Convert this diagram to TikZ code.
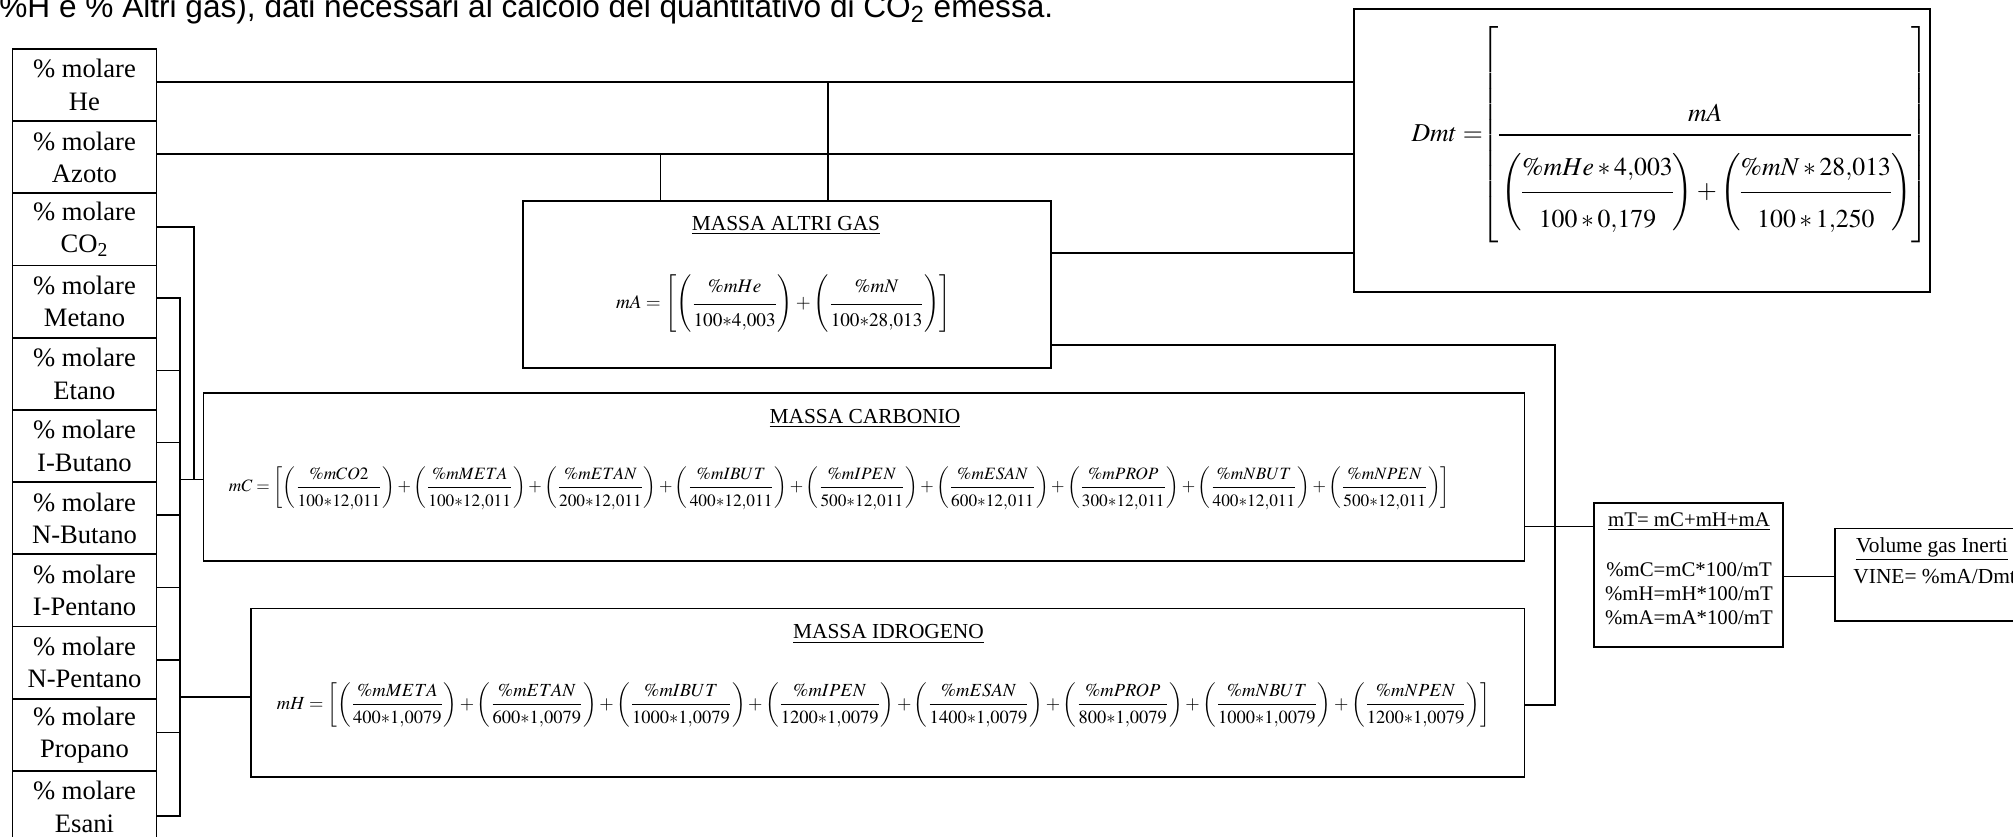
\documentclass[tikz,border=0pt]{standalone}
\usepackage{mathptmx}
\usepackage{amsmath}
\usepackage{graphicx}
\usepackage{fontspec}
\setmainfont{Liberation Serif}
\newfontfamily\arialfont{Liberation Sans}
\usetikzlibrary{fit}

% bracketed fraction terms, with extra room round the fraction bar
\newcommand\frC[2]{\left(\dfrac{#1}{\rule{0pt}{9pt}#2}\right)}
\newcommand\frH[2]{\left(\dfrac{#1}{\rule{0pt}{9.2pt}#2}\right)}
\newcommand\frA[2]{\left(\dfrac{\rule[-4.5pt]{0pt}{4.5pt}#1}{\rule{0pt}{10.5pt}#2}\right)}
\newcommand\frD[2]{\left(\dfrac{\rule[-7pt]{0pt}{7pt}#1}{\rule{0pt}{16.7pt}#2}\right)}
\newcommand\st{{*}}

\tikzset{
  frame/.style={draw, line width=0.8pt, inner sep=0pt},
  link/.style={line width=0.7pt},
  molbox/.style={draw, line width=0.8pt, minimum width=72pt, minimum height=36.2pt,
    inner sep=0pt, anchor=north west, align=center,
    font=\fontsize{13.3}{16.2}\selectfont},
  heading/.style={anchor=base, inner sep=0pt, font=\fontsize{10.7}{12}\selectfont},
  small/.style={anchor=base, inner sep=0pt, font=\fontsize{10.4}{12}\selectfont},
  calc/.style={inner sep=0pt},
}

\begin{document}
\begin{tikzpicture}[x=0.5pt, y=-0.5pt]
\useasboundingbox (0,0) rectangle (2013,836);
\clip (0,0) rectangle (2013,836);

% introductory sentence (top line, partly cut)
\node[anchor=base west, inner sep=0pt, font=\arialfont\fontsize{15.8}{17}\selectfont] (intro)
  at (-1,17) {\%H e \% Altri gas), dati necessari al calcolo del quantitativo di CO\textsubscript{2} emessa.};

% column of molar fractions
\node[molbox] (he)  at (11.7,48.0)  {\% molare\\He};
\node[molbox] (az)  at (11.7,120.2) {\% molare\\Azoto};
\node[molbox] (co)  at (11.7,192.4) {\% molare\\CO\textsubscript{2}};
\node[molbox] (met) at (11.7,264.6) {\% molare\\Metano};
\node[molbox] (eta) at (11.7,336.8) {\% molare\\Etano};
\node[molbox] (ibu) at (11.7,409.0) {\% molare\\I-Butano};
\node[molbox] (nbu) at (11.7,481.2) {\% molare\\N-Butano};
\node[molbox] (ipe) at (11.7,553.4) {\% molare\\I-Pentano};
\node[molbox] (npe) at (11.7,625.6) {\% molare\\N-Pentano};
\node[molbox] (pro) at (11.7,697.8) {\% molare\\Propano};
\node[molbox] (esa) at (11.7,770.0) {\% molare\\Esani};

% calculation frames
\node[frame, fit={(523,200.7) (1051,368)}]      (ag)  {};
\node[frame, fit={(1354,9) (1930,292)}]         (dmt) {};
\node[frame, fit={(203.4,392.7) (1524.3,561)}]  (mc)  {};
\node[frame, fit={(251,608.3) (1524.3,776.7)}]  (mh)  {};
\node[frame, fit={(1594.2,502.7) (1783,646.7)}] (mt)  {};
\node[frame, fit={(1835,528.3) (2030,621)}]     (vgi) {};

% MASSA ALTRI GAS
\node[heading] (agt) at (786,230.5) {\underline{MASSA ALTRI GAS}};
\node[calc, font=\fontsize{10.2}{12}\selectfont] (agf) at (783.5,304) {\resizebox{167.5pt}{!}{$\displaystyle
  mA=\left[\frA{\%mHe}{100\st4{,}003}+\frA{\%mN}{100\st28{,}013}\right]$}};

% density of the other gases
\node[calc, anchor=east, font=\fontsize{13.5}{15}\selectfont] (dmtf) at (1929,135) {\resizebox{258.5pt}{!}{\nulldelimiterspace=0pt$\displaystyle
  Dmt=\hspace{-3.5pt}\left[\rule[-52.4pt]{0pt}{52.4pt}\dfrac{\rule[-5.1pt]{0pt}{5.1pt}mA}{\rule{0pt}{31.5pt}\frD{\%mHe * 4{,}003}{100 * 0{,}179}+\frD{\%mN * 28{,}013}{100 * 1{,}250}}\right]$}};

% MASSA CARBONIO
\node[heading] (mct) at (865,423) {\underline{MASSA CARBONIO}};
\node[calc, font=\fontsize{9.5}{11}\selectfont] (mcf) at (839.5,488) {\resizebox{610.5pt}{!}{$\displaystyle
  mC=\left[\frC{\%mCO2}{100\st12{,}011}+\frC{\%mMETA}{100\st12{,}011}+\frC{\%mETAN}{200\st12{,}011}
  +\frC{\%mIBUT}{400\st12{,}011}+\frC{\%mIPEN}{500\st12{,}011}+\frC{\%mESAN}{600\st12{,}011}
  +\frC{\%mPROP}{300\st12{,}011}+\frC{\%mNBUT}{400\st12{,}011}+\frC{\%mNPEN}{500\st12{,}011}\right]$}};

% MASSA IDROGENO
\node[heading] (mht) at (888.5,638.8) {\underline{MASSA IDROGENO}};
\node[calc, font=\fontsize{10.2}{12}\selectfont] (mhf) at (883.5,705) {\resizebox{606.5pt}{!}{$\displaystyle
  mH=\left[\frH{\%mMETA}{400\st1{,}0079}+\frH{\%mETAN}{600\st1{,}0079}+\frH{\%mIBUT}{1000\st1{,}0079}
  +\frH{\%mIPEN}{1200\st1{,}0079}+\frH{\%mESAN}{1400\st1{,}0079}+\frH{\%mPROP}{800\st1{,}0079}
  +\frH{\%mNBUT}{1000\st1{,}0079}+\frH{\%mNPEN}{1200\st1{,}0079}\right]$}};

% total mass and percentages
\node[small] (mtt) at (1689,526)   {\underline{mT= mC+mH+mA}};
\node[small] (pc)  at (1689,576)   {\%mC=mC*100/mT};
\node[small] (ph)  at (1689,600)   {\%mH=mH*100/mT};
\node[small] (pa)  at (1689,624.5) {\%mA=mA*100/mT};

% inert gas volume
\node[small, font=\fontsize{10.7}{12}\selectfont] (vgt) at (1932,552) {\underline{Volume gas Inerti}};
\node[small, anchor=base west, font=\fontsize{10.7}{12}\selectfont] (vgf) at (1853,583.5) {VINE= \%mA/Dmt};

% --- connectors ---
\coordinate (heo) at ([yshift=1.5pt]he.east);
\coordinate (azo) at ([yshift=1.6pt]az.east);
\draw[link] (heo) -- (heo -| dmt.west);
\draw[link] (azo) -- (azo -| dmt.west);
\draw[link] ([xshift=20.5pt]ag.north) -- ([xshift=20.5pt]ag.north |- heo);
\draw[link] ([xshift=-63.25pt]ag.north) -- ([xshift=-63.25pt]ag.north |- azo);
\draw[link] ([yshift=15.7pt]ag.east) -- ([yshift=15.7pt]ag.east -| dmt.west);

\coordinate (j) at (1555,526.7);
\draw[link] (j -| mc.east) -- (j -| mt.west);
\draw[link] ([yshift=-30.3pt]ag.east) -| (j);
\draw[link] ([yshift=-6.25pt]mh.east) -| (j);
\draw[link] ([yshift=-1pt]mt.east) -- ([yshift=-1pt]mt.east -| vgi.west);

% carbon and hydrogen inputs
\coordinate (cj) at (194,479.3);
\coordinate (bj) at (180,479.3);
\draw[link] ([yshift=1.2pt]co.east) -| (cj);
\draw[link] (bj) -- (bj -| mc.west);
\coordinate (meo) at ([yshift=1.9pt]met.east);
\coordinate (eso) at ([yshift=-4.5pt]esa.east);
\draw[link] (meo) -- (meo -| bj) -- (eso -| bj) -- (eso);
\draw[link] ([yshift=1.8pt]eta.east) -- ([yshift=1.8pt]eta.east -| bj);
\draw[link] ([yshift=1.7pt]ibu.east) -- ([yshift=1.7pt]ibu.east -| bj);
\draw[link] ([yshift=1.7pt]nbu.east) -- ([yshift=1.7pt]nbu.east -| bj);
\draw[link] ([yshift=1.5pt]ipe.east) -- ([yshift=1.5pt]ipe.east -| bj);
\draw[link] ([yshift=1.3pt]npe.east) -- ([yshift=1.3pt]npe.east -| bj);
\draw[link] ([yshift=1.3pt]pro.east) -- ([yshift=1.3pt]pro.east -| bj);
\draw[link] ([yshift=-2.25pt]mh.west) -- ([yshift=-2.25pt]mh.west -| bj);
\end{tikzpicture}
\end{document}
